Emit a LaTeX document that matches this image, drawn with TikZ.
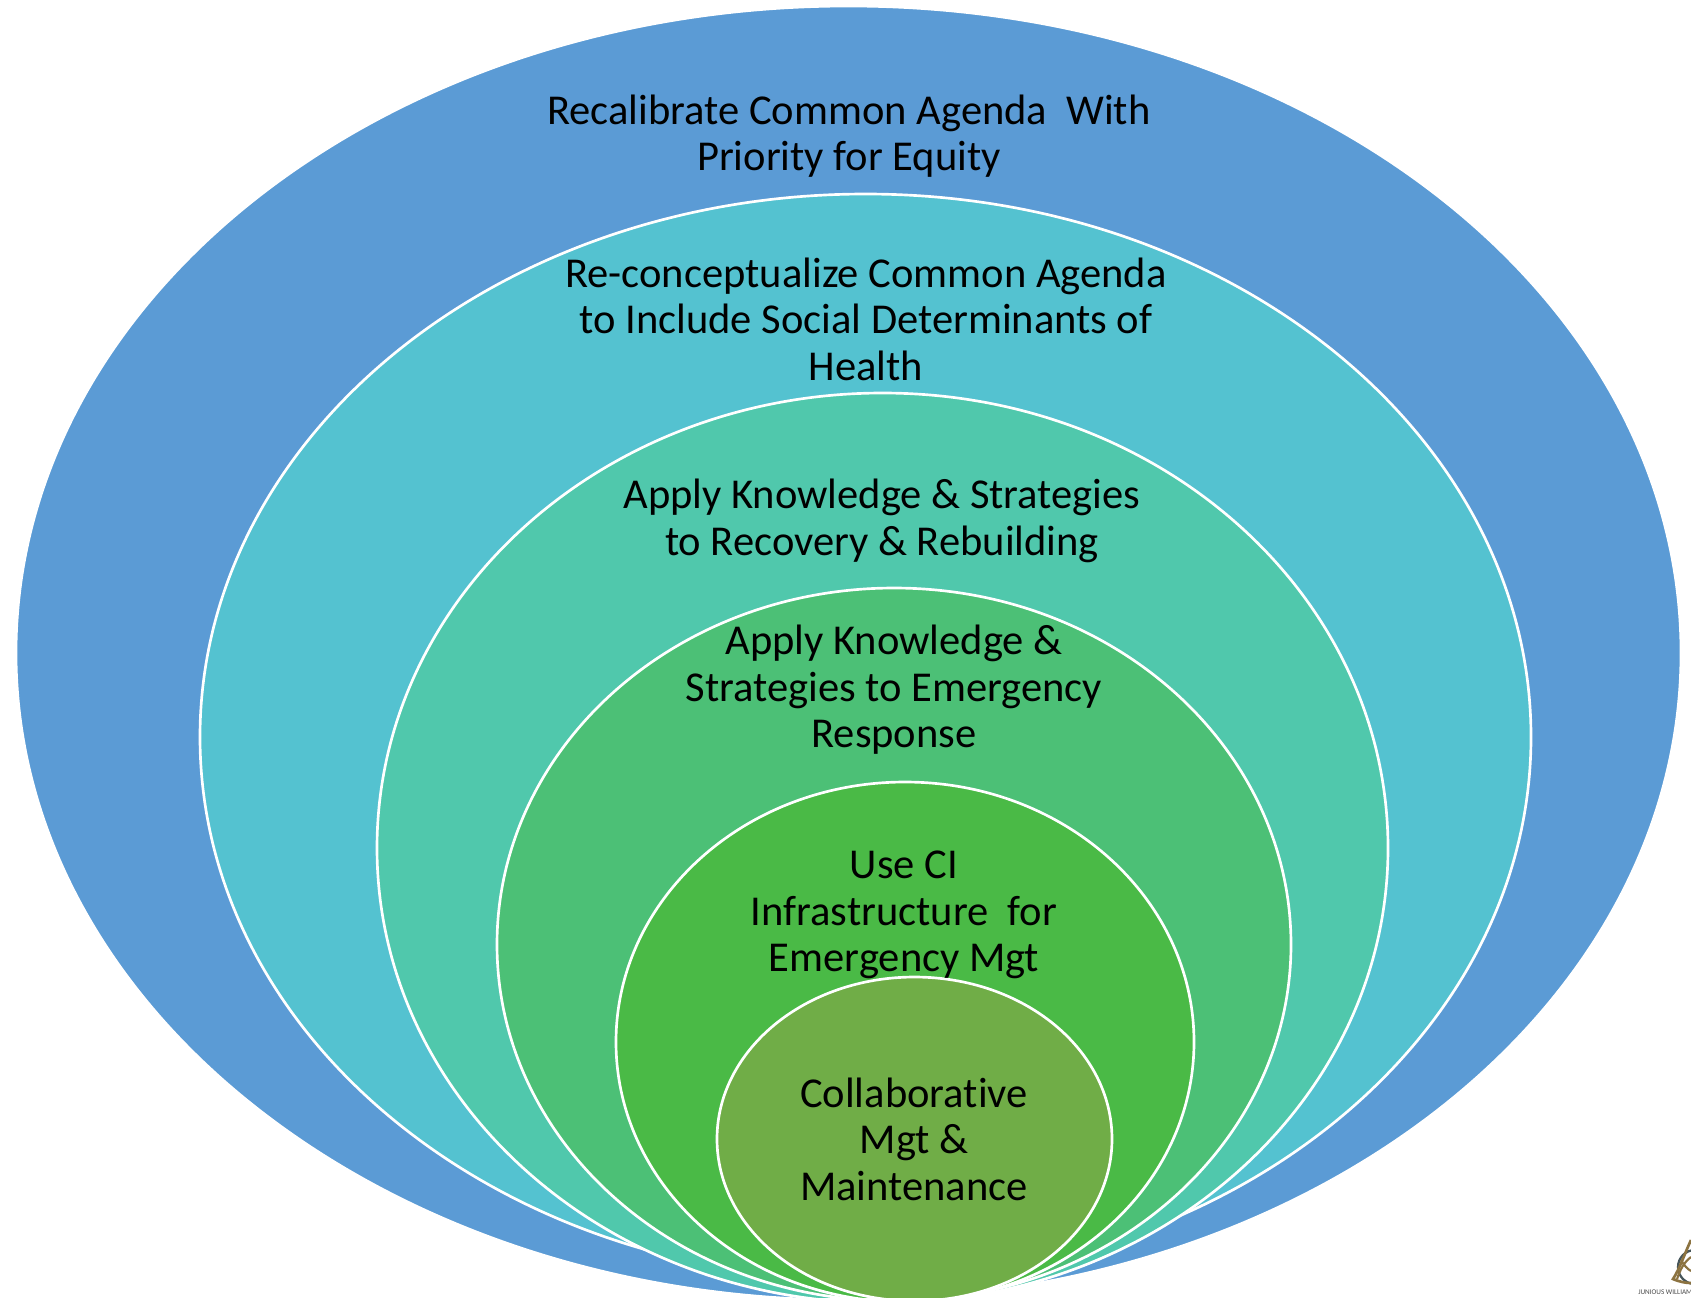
\documentclass[tikz,border=0pt]{standalone}
\usepackage{fontspec}
\setmainfont[Ligatures=NoCommon]{Carlito}
\usetikzlibrary{shapes.geometric}
\tikzset{
  px/.style={x=0.75pt,y=-0.75pt},
  ring/.style={ellipse,draw=white,line width=2pt,inner sep=0pt,outer sep=0pt},
  lbl/.style={align=center,text=black,inner sep=0pt,font=\fontsize{31.9}{34.8}\selectfont},
}
\definecolor{c1}{RGB}{91,155,213}
\definecolor{c2}{RGB}{84,194,208}
\definecolor{c3}{RGB}{80,200,172}
\definecolor{c4}{RGB}{76,192,118}
\definecolor{c5}{RGB}{74,186,70}
\definecolor{c6}{RGB}{112,173,71}
\definecolor{gold}{RGB}{140,115,65}
\definecolor{slate}{RGB}{70,85,90}
\newcommand{\ringnode}[6]{% name, left, right, top, bottom, colour
  \node[ring,fill=#6,minimum width=#3*0.75pt-#2*0.75pt,minimum height=#5*0.75pt-#4*0.75pt] (#1) at ({(#2+#3)/2},{(#4+#5)/2}) {};}
\begin{document}
\begin{tikzpicture}[px]
\useasboundingbox (0,0) rectangle (1691,1297);
\clip (0,0) rectangle (1691,1297);
\fill[white] (0,0) rectangle (1691,1297);
\ringnode{e1}{16}{1681}{6}{1300}{c1}
\ringnode{e2}{200}{1531}{194}{1280}{c2}
\ringnode{e3}{377}{1388}{393}{1303}{c3}
\ringnode{e4}{497}{1291}{588}{1301}{c4}
\ringnode{e5}{616}{1194}{782}{1302}{c5}
\ringnode{e6}{717}{1112}{977}{1301}{c6}
\node[lbl] (t1) at (849,136) {Recalibrate Common Agenda\ \ With\\Priority for Equity};
\node[lbl] (t2) at (866,319) {Re-conceptualize Common Agenda\\to Include Social Determinants of\\Health};
\node[lbl] (t3) at (882,521) {Apply Knowledge \& Strategies\\to Recovery \& Rebuilding};
\node[lbl] (t4) at (894,690) {Apply Knowledge \&\\Strategies to Emergency\\Response};
\node[lbl] (t5) at (904,915) {Use CI\\Infrastructure\ \ for\\Emergency Mgt};
\node[lbl] (t6) at (914,1139) {Collaborative\\Mgt \&\\Maintenance};
% logo
\draw[slate,line width=1.7pt] (1695,1267) circle (17);
\draw[gold,line width=2pt] (1691,1240) .. controls (1684,1255) and (1680,1268) .. (1673,1279) .. controls (1680,1282) and (1686,1283) .. (1691,1283);
\draw[gold,line width=1.6pt] (1691,1257) .. controls (1684,1262) and (1680,1270) .. (1677,1279);
\draw[gold,line width=1.6pt] (1681,1260) .. controls (1684,1265) and (1687,1269) .. (1691,1271);
\node[anchor=west,inner sep=0pt,text=black!70,font=\fontsize{5.4}{6}\selectfont] (logo) at (1638,1292) {JUNIOUS WILLIAMS};
\end{tikzpicture}
\end{document}
